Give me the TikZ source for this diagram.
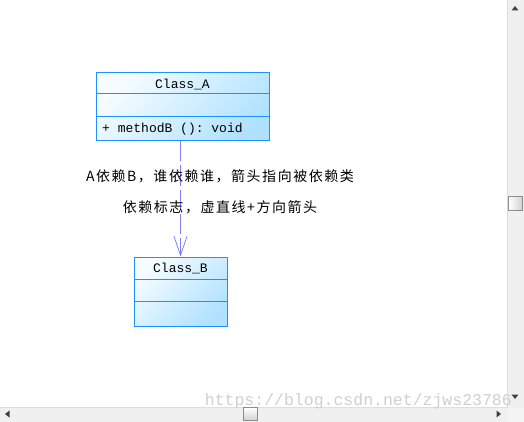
\documentclass[tikz,border=0pt]{standalone}
\usepackage{fontspec}
\setmonofont{Liberation Mono}
\newfontfamily\cjk[LetterSpace=11]{Noto Sans CJK SC}
\usepackage{xcolor}
\usetikzlibrary{arrows.meta}
\definecolor{clsline}{RGB}{30,144,255}
\definecolor{clslight}{RGB}{246,252,255}
\definecolor{clsdark}{RGB}{176,226,255}
\definecolor{depline}{RGB}{128,128,255}
\definecolor{bartrack}{RGB}{240,240,240}
\definecolor{barline}{RGB}{222,222,222}
\definecolor{thumbline}{RGB}{140,140,140}
\definecolor{markgray}{RGB}{208,208,208}
\begin{document}
\begin{tikzpicture}[x=1pt,y=-1pt,font=\fontsize{13}{15}\selectfont,
  umlclass/.style={draw=clsline,line width=1pt,top color=clslight,bottom color=clsdark,shading angle=45,inner sep=0pt},
  clsname/.style={font=\ttfamily\fontsize{13}{15}\selectfont,inner sep=0pt},
  note/.style={font=\cjk\fontsize{14}{16}\selectfont,inner sep=0pt},
  dep/.style={depline,line width=0.8pt,dash pattern=on 20pt off 4pt,-{Straight Barb[length=19pt,width=13pt,line width=0.8pt]}},
  arrowtip/.style={fill=black!75}]
  \useasboundingbox (0,0) rectangle (524,422);
  \fill[white] (0,0) rectangle (524,422);
  % class boxes
  \node[umlclass,minimum width=173pt,minimum height=68pt] (classA) at (182.5,107) {};
  \draw[clsline,line width=1pt] (96,94) -- (269,94) (96,117) -- (269,117);
  \node[clsname] (nameA) at (182.5,84) {Class\_A};
  \node[clsname,anchor=west] (methodA) at (102,129) {+ methodB (): void};
  \node[umlclass,minimum width=93pt,minimum height=69pt] (classB) at (180.5,291.5) {};
  \draw[clsline,line width=1pt] (134,279) -- (227,279) (134,301) -- (227,301);
  \node[clsname] (nameB) at (180.5,268) {Class\_B};
  % dependency
  \draw[dep] (classA.south -| classB.north) -- (classB.north);
  \node[note] (note1) at (220,176) {A依赖B，谁依赖谁，箭头指向被依赖类};
  \node[note] (note2) at (220,207) {依赖标志，虚直线+方向箭头};
  % scroll bars
  \fill[bartrack] (507,0) rectangle (524,422) (0,407) rectangle (524,422);
  \draw[barline] (507.5,0) -- (507.5,407.5) -- (0,407.5);
  \fill[bartrack!80!white] (508,408) rectangle (524,422);
  \shade[left color=white,right color=black!18,draw=thumbline] (508.5,196.5) rectangle (522.5,210.5);
  \shade[top color=white,bottom color=black!18,draw=thumbline] (243.5,407.5) rectangle (257.5,420.5);
  \foreach \x/\y/\dx/\dy in {515/9/0/-1,515/396/0/1,8/414/-1/0,498/414/1/0}
    \fill[arrowtip] (\x+3*\dx,\y+3*\dy) -- (\x-1.5*\dx+3.5*\dy,\y-1.5*\dy+3.5*\dx)
      -- (\x-1.5*\dx-3.5*\dy,\y-1.5*\dy-3.5*\dx) -- cycle;
  \node[font=\ttfamily\fontsize{16.5}{17}\selectfont,text=markgray,anchor=east,inner sep=0pt] (mark) at (512,401) {https://blog.csdn.net/zjws23786};
\end{tikzpicture}
\end{document}
